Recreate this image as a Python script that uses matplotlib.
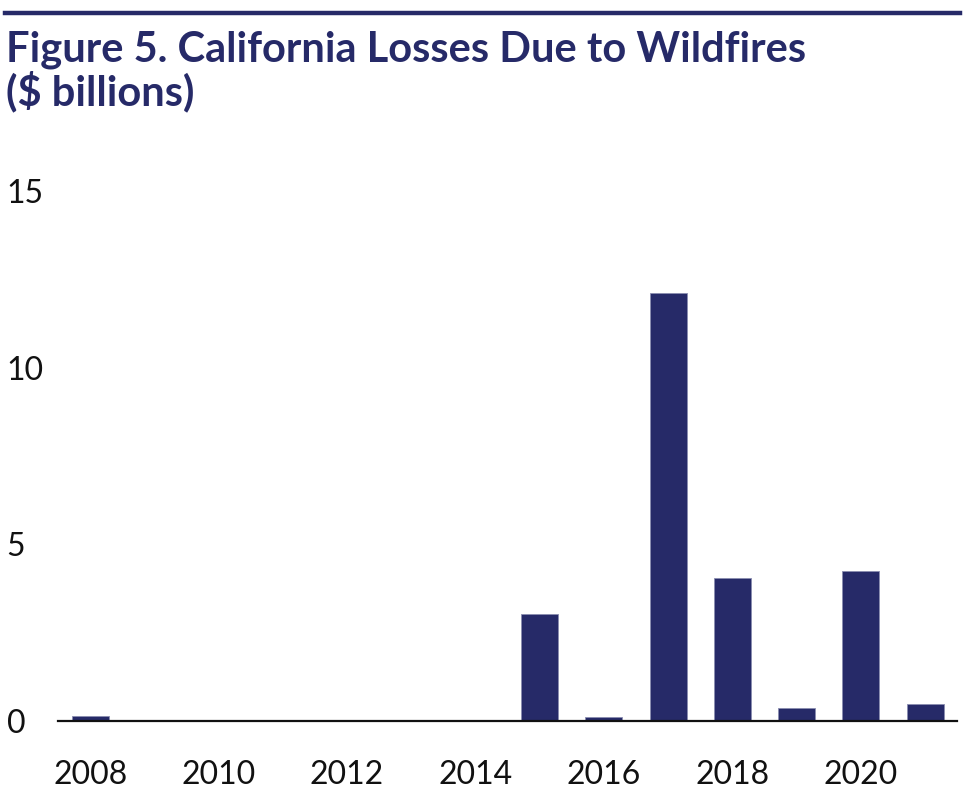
import matplotlib.pyplot as plt
from matplotlib.lines import Line2D

# Data ($ billions)
years = [2008, 2009, 2010, 2011, 2012, 2013, 2014, 2015, 2016, 2017, 2018, 2019, 2020, 2021]
losses = [0.13, 0.02, 0.01, 0.01, 0.02, 0.02, 0.01, 3.03, 0.12, 12.1, 4.05, 0.37, 4.25, 0.48]
xtick_years = [2008, 2010, 2012, 2014, 2016, 2018, 2020]
yticks = [0, 5, 10, 15]

navy = '#262a68'
plt.rcParams['font.family'] = ['Lato', 'DejaVu Sans']

fig = plt.figure(figsize=(9.72, 7.92), dpi=100)
ax = fig.add_axes([0.0597, 0.0896, 0.925, 0.6692])

ax.bar(years, losses, width=0.576, color=navy, edgecolor='#8a8db0', linewidth=0.6)

ax.set_xlim(2007.5, 2021.5)
ax.set_ylim(0, 15)
ax.set_xticks(xtick_years)
ax.set_xticklabels([str(y) for y in xtick_years])
ax.set_yticks(yticks)

for s in ['top', 'right', 'left']:
    ax.spines[s].set_visible(False)
ax.spines['bottom'].set_linewidth(1.6)
ax.spines['bottom'].set_color('#111111')
ax.tick_params(axis='both', length=0, labelsize=23, colors='#111111')
ax.tick_params(axis='x', pad=28)
ax.tick_params(axis='y', pad=37)
plt.setp(ax.get_yticklabels(), ha='left')

# top rule and title
fig.add_artist(Line2D([0.005, 0.988], [0.984, 0.984], color=navy, linewidth=3.2))
fig.text(0.006, 0.961, 'Figure 5. California Losses Due to Wildfires\n($ billions)',
         fontsize=30, fontweight='bold', color=navy, va='top', ha='left',
         linespacing=1.05)

fig.savefig('out.png', dpi=100)
